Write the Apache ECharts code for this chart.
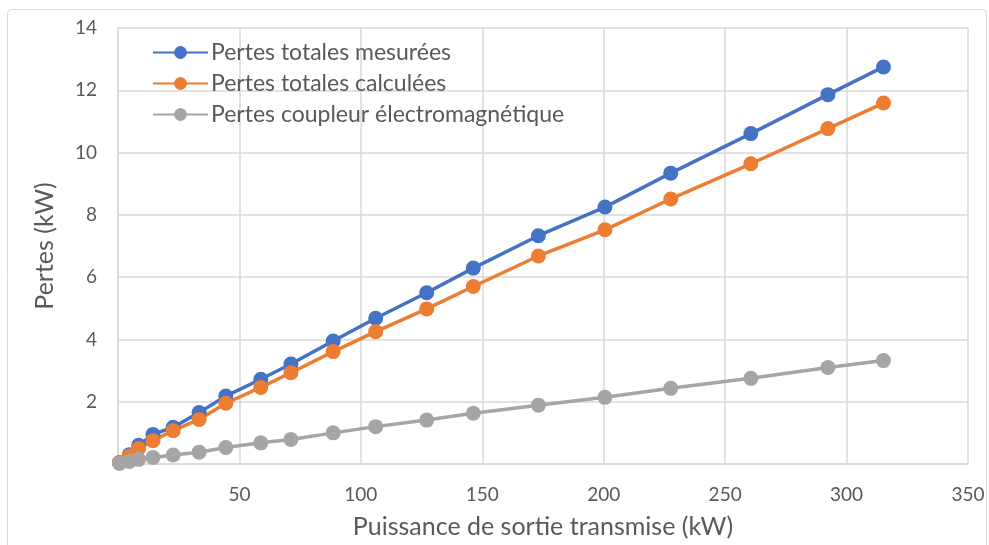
<!DOCTYPE html>
<html>
<head>
<meta charset="utf-8">
<script src="https://cdn.jsdelivr.net/npm/echarts@6/dist/echarts.min.js"></script>
<style>html,body{margin:0;padding:0;background:#fff}#c{width:989px;height:545px}</style>
</head>
<body>
<div id="c"></div>
<script>
const xValues = [0.6, 4.7, 8.5, 14.4, 22.7, 33.4, 44.4, 58.8, 71.2, 88.6, 106.1, 127.1, 146.3, 173.1, 200.5, 227.6, 260.6, 292.3, 315.2];
const mesurees = [0.05, 0.3, 0.6, 0.95, 1.18, 1.65, 2.18, 2.72, 3.21, 3.95, 4.68, 5.5, 6.29, 7.33, 8.25, 9.34, 10.61, 11.86, 12.75];
const calculees = [0.04, 0.26, 0.5, 0.75, 1.07, 1.43, 1.95, 2.46, 2.93, 3.61, 4.25, 4.98, 5.7, 6.68, 7.52, 8.51, 9.64, 10.77, 11.59];
const coupleur = [0.02, 0.08, 0.15, 0.21, 0.29, 0.38, 0.53, 0.68, 0.79, 1.0, 1.2, 1.41, 1.63, 1.89, 2.14, 2.43, 2.75, 3.1, 3.32];
const seriesNames = ['Pertes totales mesurées', 'Pertes totales calculées', 'Pertes coupleur électromagnétique'];
const colors = ['#4472C4', '#ED7D31', '#A5A5A5'];
const xTitle = 'Puissance de sortie transmise (kW)';
const yTitle = 'Pertes (kW)';

const FONT = 'Lato, "Open Sans", sans-serif';
const pair = (ys) => xValues.map((x, i) => [x, ys[i]]);
const mk = (name, ys, color) => ({
  name, type: 'line', data: pair(ys),
  symbol: 'circle', symbolSize: 15,
  lineStyle: { width: 3.5, color },
  itemStyle: { color },
  emphasis: { disabled: true },
  animation: false
});

const chart = echarts.init(document.getElementById('c'));
chart.setOption({
  animation: false,
  textStyle: { fontFamily: FONT },
  graphic: [{
    type: 'rect', left: 5, top: 7, silent: true,
    shape: { width: 979, height: 560, r: 4 },
    style: { fill: 'none', stroke: '#d9d9d9', lineWidth: 1 }
  }],
  grid: { left: 118, right: 21, top: 28, bottom: 81, containLabel: false },
  legend: {
    show: true, orient: 'vertical', left: 147, top: 36,
    itemWidth: 55, itemHeight: 16, itemGap: 8,
    textStyle: { fontSize: 23, lineHeight: 23, color: '#595959', fontFamily: FONT, padding: [0, 0, 0, -2] },
    data: seriesNames
  },
  xAxis: {
    type: 'value', min: 0, max: 350, interval: 50,
    name: xTitle, nameLocation: 'middle', nameGap: 50,
    nameTextStyle: { fontSize: 25, color: '#595959', fontFamily: FONT },
    axisLine: { show: true, lineStyle: { color: '#d9d9d9', width: 1.5 } },
    axisTick: { show: false },
    axisLabel: { fontSize: 19, color: '#595959', margin: 21, fontFamily: FONT,
      formatter: v => v === 0 ? '' : String(v) },
    splitLine: { show: true, lineStyle: { color: '#d9d9d9', width: 1.5 } }
  },
  yAxis: {
    type: 'value', min: 0, max: 14, interval: 2,
    name: yTitle, nameLocation: 'middle', nameGap: 61, nameRotate: 90,
    nameTextStyle: { fontSize: 25, color: '#595959', fontFamily: FONT },
    axisLine: { show: true, lineStyle: { color: '#d9d9d9', width: 1.5 } },
    axisTick: { show: false },
    axisLabel: { fontSize: 19, color: '#595959', margin: 21, fontFamily: FONT,
      formatter: v => v === 0 ? '' : String(v) },
    splitLine: { show: true, lineStyle: { color: '#d9d9d9', width: 1.5 } }
  },
  series: [
    mk(seriesNames[0], mesurees, colors[0]),
    mk(seriesNames[1], calculees, colors[1]),
    mk(seriesNames[2], coupleur, colors[2])
  ]
});
</script>
</body>
</html>
